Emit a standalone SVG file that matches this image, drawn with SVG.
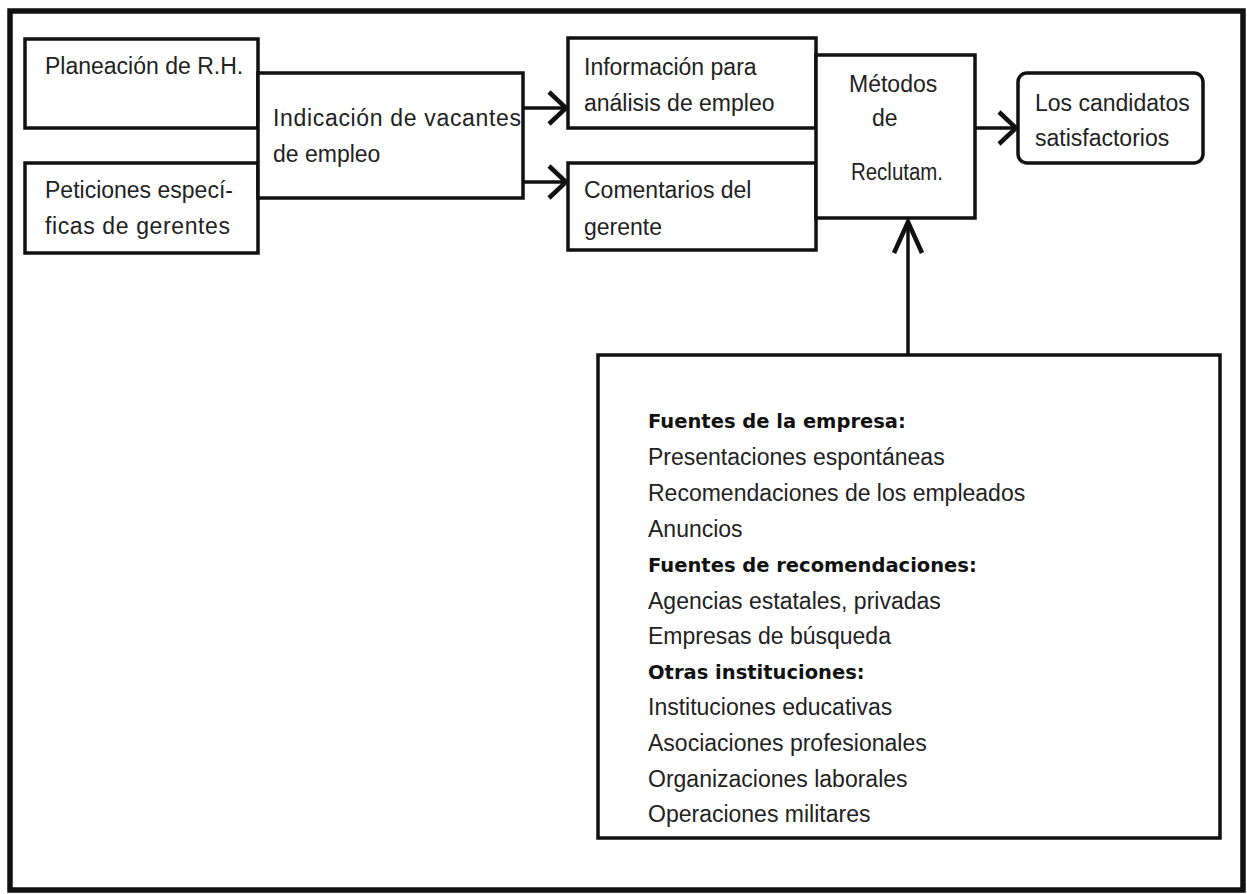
<svg xmlns="http://www.w3.org/2000/svg" width="1247" height="894" viewBox="0 0 1247 894">
  <style>
    .box { fill: #fff; stroke: #111; stroke-width: 3.5; }
    .line { fill: none; stroke: #111; stroke-width: 3.5; }
    .head { fill: none; stroke: #111; stroke-width: 4.5; stroke-linecap: butt; stroke-linejoin: miter; }
    .t { font-family: "Liberation Sans", "DejaVu Sans", sans-serif; font-size: 23px; fill: #222; }
    .b { font-family: "DejaVu Sans", "Liberation Sans", sans-serif; font-size: 19.5px; font-weight: bold; fill: #111; }
  </style>

  <rect x="0" y="0" width="1247" height="894" fill="#fff"/>
  <!-- outer frame -->
  <rect x="10" y="11" width="1233" height="879" fill="none" stroke="#111" stroke-width="5.5"/>

  <g id="connectors">
    <line class="line" x1="523" y1="108" x2="566" y2="108"/>
    <polyline class="head" points="549,92 566,108 549,124"/>
    <line class="line" x1="523" y1="182" x2="566" y2="182"/>
    <polyline class="head" points="549,166 566,182 549,198"/>
    <line class="line" x1="975" y1="128" x2="1016" y2="128"/>
    <polyline class="head" points="999,112 1016,128 999,144"/>
    <line class="line" x1="908" y1="355" x2="908" y2="222"/>
    <polyline class="head" points="894,253 908,222 922,253"/>
  </g>

  <g id="planeacion">
    <rect class="box" x="25" y="39" width="233" height="89"/>
    <text class="t" x="45" y="74">Planeación de R.H.</text>
  </g>

  <g id="peticiones">
    <rect class="box" x="25" y="163" width="233" height="90"/>
    <text class="t" x="45" y="198">Peticiones especí-</text>
    <text class="t" x="45" y="234" textLength="185" lengthAdjust="spacing">ficas de gerentes</text>
  </g>

  <g id="indicacion">
    <rect class="box" x="258" y="73" width="265" height="125"/>
    <text class="t" x="273" y="126" textLength="248" lengthAdjust="spacing">Indicación de vacantes</text>
    <text class="t" x="273" y="162">de empleo</text>
  </g>

  <g id="informacion">
    <rect class="box" x="568" y="38" width="248" height="90"/>
    <text class="t" x="584" y="75">Información para</text>
    <text class="t" x="584" y="111">análisis de empleo</text>
  </g>

  <g id="comentarios">
    <rect class="box" x="568" y="163" width="248" height="87"/>
    <text class="t" x="584" y="198">Comentarios del</text>
    <text class="t" x="584" y="235">gerente</text>
  </g>

  <g id="metodos">
    <rect class="box" x="816" y="55" width="159" height="163"/>
    <text class="t" x="849" y="92">Métodos</text>
    <text class="t" x="872" y="126">de</text>
    <text class="t" x="851" y="180" textLength="92" lengthAdjust="spacingAndGlyphs">Reclutam.</text>
  </g>

  <g id="candidatos">
    <rect class="box" x="1018" y="73" width="185" height="90" rx="9" ry="9"/>
    <text class="t" x="1035" y="111">Los candidatos</text>
    <text class="t" x="1035" y="146">satisfactorios</text>
  </g>

  <g id="fuentes">
    <rect class="box" x="598" y="355" width="622" height="483"/>
    <text class="b" x="648" y="428">Fuentes de la empresa:</text>
    <text class="t" x="648" y="465">Presentaciones espontáneas</text>
    <text class="t" x="648" y="501">Recomendaciones de los empleados</text>
    <text class="t" x="648" y="537">Anuncios</text>
    <text class="b" x="648" y="572">Fuentes de recomendaciones:</text>
    <text class="t" x="648" y="609">Agencias estatales, privadas</text>
    <text class="t" x="648" y="644">Empresas de búsqueda</text>
    <text class="b" x="648" y="679">Otras instituciones:</text>
    <text class="t" x="648" y="715">Instituciones educativas</text>
    <text class="t" x="648" y="751">Asociaciones profesionales</text>
    <text class="t" x="648" y="787">Organizaciones laborales</text>
    <text class="t" x="648" y="822">Operaciones militares</text>
  </g>
</svg>
